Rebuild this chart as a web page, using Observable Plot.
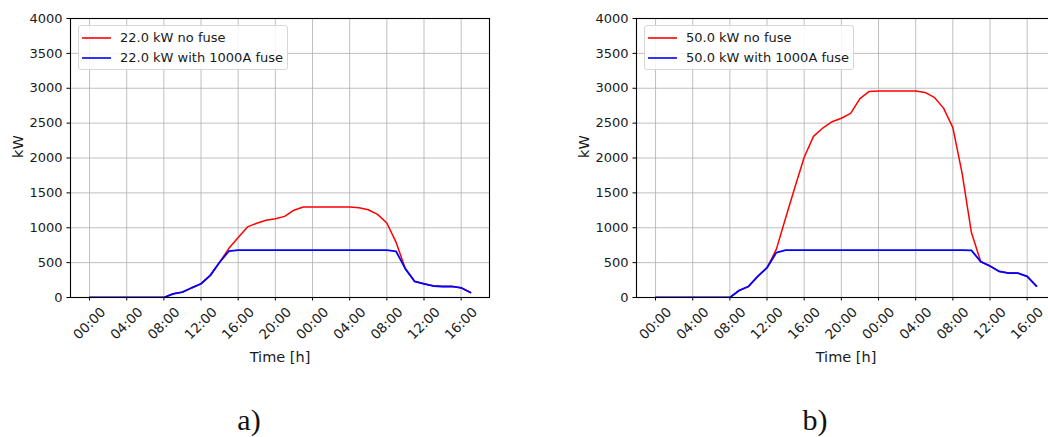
<!DOCTYPE html>
<html>
<head>
<meta charset="utf-8">
<script src="https://cdn.jsdelivr.net/npm/d3@7"></script>
<script src="https://cdn.jsdelivr.net/npm/@observablehq/plot@0.6"></script>
<style>
  html, body { margin: 0; padding: 0; background: #fff; overflow: hidden; }
  #figure { position: relative; width: 1048px; height: 437px; overflow: hidden; font-family: "DejaVu Sans", sans-serif; }
  .panel { position: absolute; top: 0; width: 524px; height: 437px; }
  .panel > svg { position: absolute; left: 0; top: 0; }
  .legend { position: absolute; left: 78px; top: 25px; width: 210px; height: 45px; box-sizing: border-box;
            border: 1px solid #d6d6d6; border-radius: 3px; background: rgba(255,255,255,0.85); }
  .legend .swatch { position: absolute; left: 3px; display: block; }
  .legend .label { position: absolute; left: 41px; font-size: 13px; line-height: 16px; color: #1a1a1a; white-space: nowrap; }
  .caption { position: absolute; top: 405px; width: 80px; margin-left: -40px; text-align: center;
             font-family: "Liberation Serif", serif; font-size: 30px; line-height: 30px; color: #111; }
</style>
</head>
<body>
<div id="figure"></div>
<script>
// Hour since midnight of the first day (hourly samples)
const hours = d3.range(0, 42);

// Tick positions every four hours and their clock labels
const tickHours = [0, 4, 8, 12, 16, 20, 24, 28, 32, 36, 40];
const tickLabels = ["00:00", "04:00", "08:00", "12:00", "16:00", "20:00", "00:00", "04:00", "08:00", "12:00", "16:00"];
const yTicks = [0, 500, 1000, 1500, 2000, 2500, 3000, 3500, 4000];

// a) 22 kW chargers
const kw22NoFuse = [0, 0, 0, 0, 0, 0, 0, 0, 0, 53, 77, 139, 197, 317, 505, 705, 860, 1012, 1065, 1108, 1130,
  1163, 1252, 1298, 1298, 1298, 1298, 1298, 1298, 1287, 1258, 1192, 1068, 790, 410, 230, 197, 165, 158, 158, 139, 72];
const kw22Fuse = [0, 0, 0, 0, 0, 0, 0, 0, 0, 53, 77, 139, 197, 317, 505, 665, 680, 680, 680, 680, 680,
  680, 680, 680, 680, 680, 680, 680, 680, 680, 680, 680, 680, 660, 410, 230, 197, 165, 158, 158, 139, 72];

// b) 50 kW chargers
const kw50NoFuse = [0, 0, 0, 0, 0, 0, 0, 0, 0, 101, 158, 302, 427, 690, 1140, 1580, 2010, 2310, 2430, 2520, 2570,
  2640, 2850, 2955, 2960, 2960, 2960, 2960, 2960, 2940, 2870, 2715, 2435, 1780, 931, 514, 451, 374, 350, 350, 302, 163];
const kw50Fuse = [0, 0, 0, 0, 0, 0, 0, 0, 0, 101, 158, 302, 427, 643, 678, 678, 678, 678, 678, 678, 678,
  678, 678, 678, 678, 678, 678, 678, 678, 678, 678, 678, 678, 678, 676, 514, 451, 374, 350, 350, 302, 163];

const legendA = ["22.0 kW no fuse", "22.0 kW with 1000A fuse"];
const legendB = ["50.0 kW no fuse", "50.0 kW with 1000A fuse"];
const captions = ["a)", "b)"];
const seriesColors = ["#ff0000", "#0000ff"];

const SVG_NS = "http://www.w3.org/2000/svg";

function panel(noFuse, fuse, legendLabels, caption, left) {
  const wrap = document.createElement("div");
  wrap.className = "panel";
  wrap.style.left = left + "px";

  const chart = Plot.plot({
    width: 524,
    height: 380,
    marginTop: 18,
    marginLeft: 70,
    marginRight: 35,
    marginBottom: 83,
    x: { domain: [-2.05, 43.05] },
    y: { domain: [0, 4000] },
    style: { fontFamily: "DejaVu Sans, sans-serif", fontSize: "13px", color: "#1a1a1a", background: "transparent", overflow: "visible" },
    marks: [
      Plot.gridX(tickHours, { stroke: "#b0b0b0", strokeOpacity: 0.9, strokeWidth: 0.9 }),
      Plot.gridY(yTicks, { stroke: "#b0b0b0", strokeOpacity: 0.9, strokeWidth: 0.9 }),
      Plot.lineY(noFuse, { x: (d, i) => hours[i], y: (d) => d, stroke: seriesColors[0], strokeWidth: 1.5, clip: true }),
      Plot.lineY(fuse, { x: (d, i) => hours[i], y: (d) => d, stroke: seriesColors[1], strokeWidth: 1.8, clip: true }),
      Plot.frame({ stroke: "#000", strokeWidth: 1.1 }),
      Plot.axisY(yTicks, { tickSize: 3.5, tickPadding: 4.5, label: null, fontSize: 13, stroke: "#000", tickFormat: (d) => String(d) }),
      Plot.axisX(tickHours, { tickSize: 3.5, tickFormat: () => "", label: null, stroke: "#000" }),
      Plot.text(tickHours, {
        x: (d) => d, text: (d, i) => tickLabels[i], frameAnchor: "bottom", dy: 26,
        rotate: -45, textAnchor: "middle", lineAnchor: "middle", fontSize: 13.5, fill: "#1a1a1a"
      }),
      Plot.text(["Time [h]"], { frameAnchor: "bottom", dy: 60, lineAnchor: "middle", fontSize: 14.5, fill: "#1a1a1a" }),
      Plot.text(["kW"], { frameAnchor: "left", dx: -52, rotate: -90, lineAnchor: "middle", fontSize: 14.5, fill: "#1a1a1a" })
    ]
  });
  wrap.appendChild(chart);

  // Legend box in the upper-left corner of the axes
  const legend = document.createElement("div");
  legend.className = "legend";
  legendLabels.forEach((label, i) => {
    const sw = document.createElementNS(SVG_NS, "svg");
    sw.setAttribute("class", "swatch");
    sw.setAttribute("width", "29");
    sw.setAttribute("height", "4");
    sw.style.top = (9.5 + 20 * i) + "px";
    const ln = document.createElementNS(SVG_NS, "line");
    ln.setAttribute("x1", "0");
    ln.setAttribute("x2", "29");
    ln.setAttribute("y1", "2");
    ln.setAttribute("y2", "2");
    ln.setAttribute("stroke", seriesColors[i]);
    ln.setAttribute("stroke-width", "1.6");
    sw.appendChild(ln);
    legend.appendChild(sw);
    const tx = document.createElement("div");
    tx.className = "label";
    tx.textContent = label;
    tx.style.top = (3.5 + 20 * i) + "px";
    legend.appendChild(tx);
  });
  wrap.appendChild(legend);

  const cap = document.createElement("div");
  cap.className = "caption";
  cap.style.left = "249px";
  cap.textContent = caption;
  wrap.appendChild(cap);

  document.getElementById("figure").appendChild(wrap);
}

panel(kw22NoFuse, kw22Fuse, legendA, captions[0], 0);
panel(kw50NoFuse, kw50Fuse, legendB, captions[1], 566);
</script>
</body>
</html>
